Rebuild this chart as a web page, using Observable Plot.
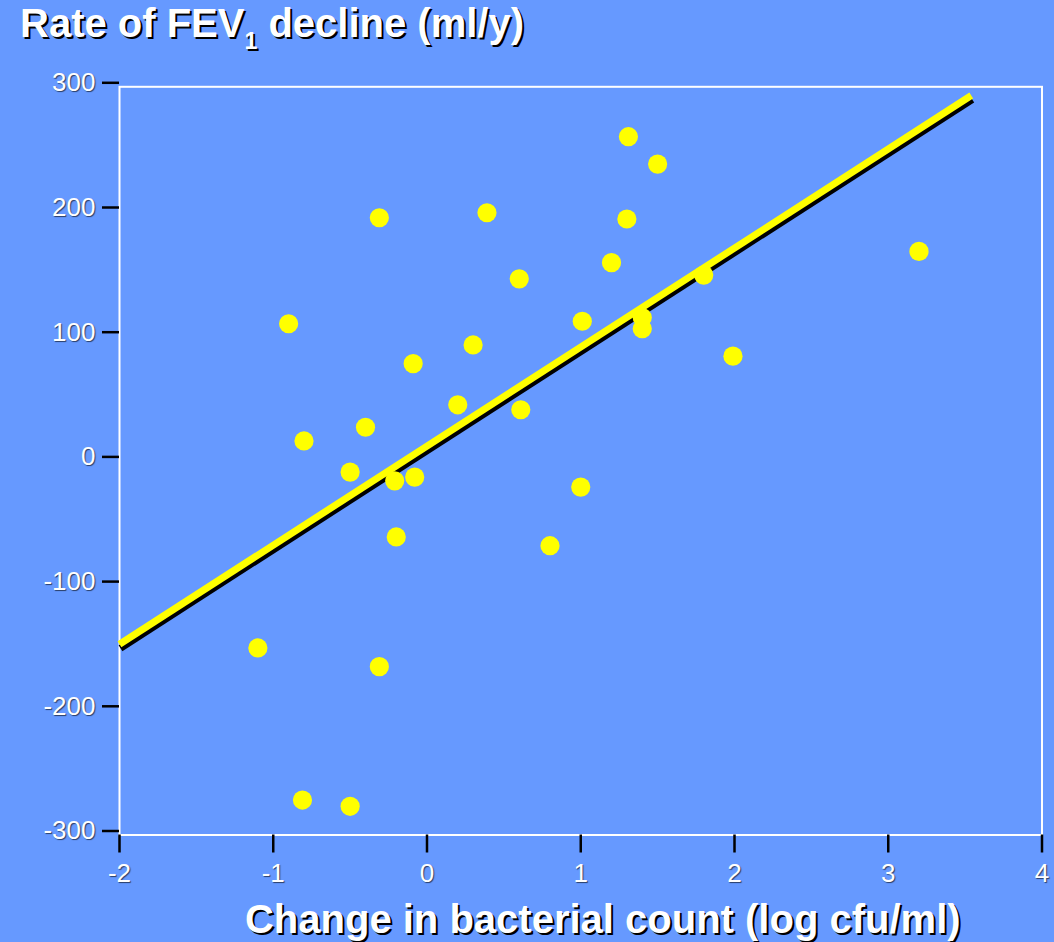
<!DOCTYPE html>
<html>
<head>
<meta charset="utf-8">
<script src="https://cdn.jsdelivr.net/npm/d3@7"></script>
<script src="https://cdn.jsdelivr.net/npm/@observablehq/plot@0.6"></script>
<style>
  html, body { margin: 0; padding: 0; background: #6699ff; overflow: hidden; }
  #title {
    height: 70px; box-sizing: border-box; padding-left: 20px; padding-top: 3px;
    font-family: "Liberation Sans", Arial, sans-serif; font-weight: bold;
    font-size: 40px; line-height: 40px; color: white;
    text-shadow: 2px 2px 0 #000; white-space: nowrap;
  }
  #title .sub { font-size: 23px; position: relative; top: 12px; }
  #chart svg { display: block; }
  g[aria-label="x-axis tick label"] text,
  g[aria-label="y-axis tick label"] text { text-shadow: 1px 1px 1px rgba(0,0,0,0.6); }
  g[aria-label="text"] text { text-shadow: 2px 2px 0 #000; }
</style>
</head>
<body>
<div id="title">Rate of FEV<span class="sub">1</span> decline (ml/y)</div>
<div id="chart"></div>
<script>
// Change in bacterial count (log cfu/ml)
const bacterialChange = [1.31, 1.50, -0.31, 0.39, 1.30, 1.20, 0.60, 1.80, 3.20, -0.90,
  1.01, 1.40, 1.40, 1.99, -0.09, 0.30, 0.20, 0.61, -0.80, -0.40,
  -0.50, -0.21, -0.08, -0.20, 1.00, 0.80, -1.10, -0.31, -0.81, -0.50];
// Rate of FEV1 decline (ml/y)
const fevDecline = [260, 238, 195, 199, 194, 159, 146, 149, 168, 110,
  112, 115, 106, 84, 78, 93, 45, 41, 16, 27,
  -9, -16, -13, -61, -21, -68, -150, -165, -272, -277];
// Regression line end points
const fitX = [-2, 3.54];
const fitY = [-147, 293];
const xTicks = [-2, -1, 0, 1, 2, 3, 4];
const yTicks = [-300, -200, -100, 0, 100, 200, 300];
const xTitle = "Change in bacterial count (log cfu/ml)";

const points = bacterialChange.map((x, i) => ({x, y: fevDecline[i]}));
const fit = fitX.map((x, i) => ({x, y: fitY[i]}));

const chart = Plot.plot({
  width: 1054,
  height: 872,
  marginLeft: 119,
  marginRight: 12.5,
  marginTop: 16.3,
  marginBottom: 107.5,
  style: {
    background: "transparent",
    fontFamily: "'Liberation Sans', Arial, sans-serif",
    overflow: "visible"
  },
  x: {domain: [-2, 4]},
  y: {domain: [-300, 300]},
  marks: [
    Plot.frame({stroke: "white", strokeWidth: 2}),
    Plot.line(fit, {x: "x", y: "y", stroke: "black", strokeWidth: 7, dx: 1, dy: 4, strokeLinecap: "butt"}),
    Plot.line(fit, {x: "x", y: "y", stroke: "#ffff00", strokeWidth: 7, strokeLinecap: "butt"}),
    Plot.dot(points, {x: "x", y: "y", r: 9.6, fill: "#ffff00", stroke: "none"}),
    Plot.axisX({ticks: xTicks, tickFormat: d => String(d), tickSize: 18, tickPadding: 11,
      fontSize: 26, stroke: "black", strokeWidth: 2.5, fill: "white", label: null}),
    Plot.axisY({ticks: yTicks, tickFormat: d => String(d), tickSize: 17, tickPadding: 7,
      fontSize: 26, stroke: "black", strokeWidth: 2.5, fill: "white", label: null, dy: -4}),
    Plot.text([xTitle], {frameAnchor: "bottom", lineAnchor: "bottom", textAnchor: "middle",
      dx: 22, dy: 97.5, fontSize: 40, fontWeight: "bold", fill: "white"})
  ]
});
document.getElementById("chart").appendChild(chart);
</script>
</body>
</html>
